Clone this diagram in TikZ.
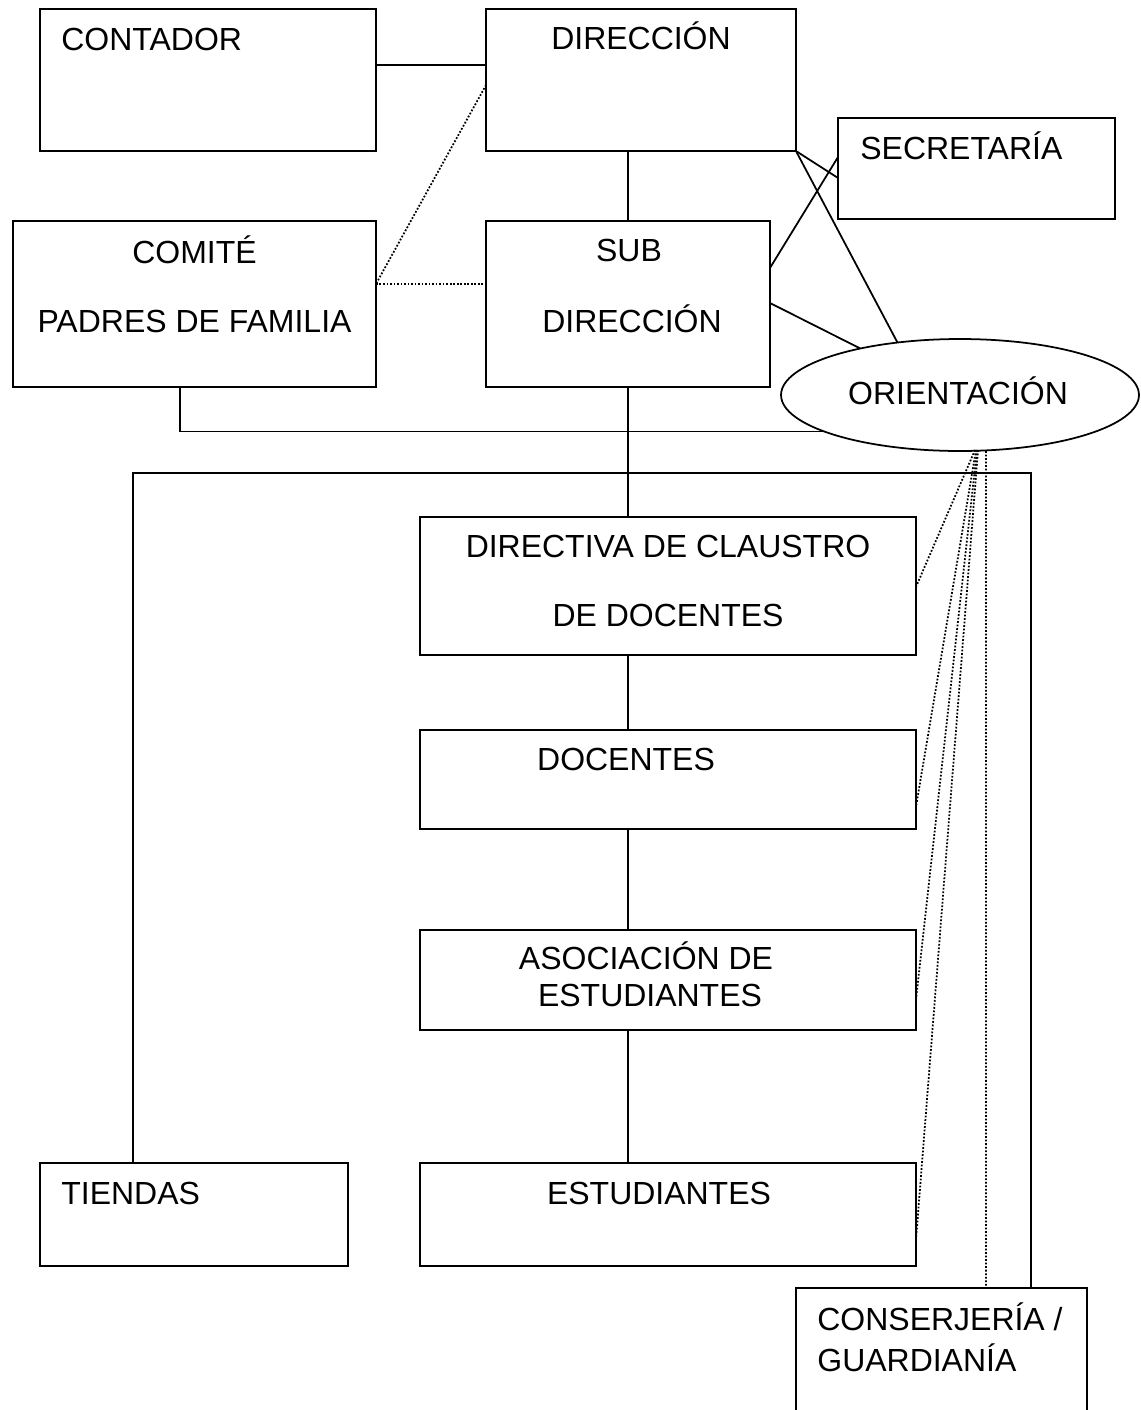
\documentclass[tikz,border=0pt]{standalone}
\usepackage{fontspec}
\setmainfont{Liberation Sans}
\usetikzlibrary{calc,shapes.geometric}
\tikzset{
  caja/.style={draw, rectangle, line width=1pt, inner sep=0pt, outer sep=0pt},
  elipse/.style={draw, ellipse, line width=1pt, inner sep=0pt, outer sep=0pt},
  texto/.style={inner sep=0pt, font=\fontsize{18.2}{22}\selectfont},
  linea/.style={line width=1pt},
  punteada/.style={line width=1pt, dash pattern=on 1pt off 1pt},
}
\begin{document}
\begin{tikzpicture}[x=0.02cm, y=-0.02cm]
  \clip (0,0) rectangle (1141,1410);
  %cajas
  \node[caja, minimum width=6.72cm, minimum height=2.84cm] (cont) at (208,80) {};
  \node[caja, minimum width=6.2cm, minimum height=2.84cm] (dir) at (641,80) {};
  \node[caja, minimum width=5.54cm, minimum height=2.02cm] (sec) at (976.5,168.5) {};
  \node[caja, minimum width=7.26cm, minimum height=3.32cm] (com) at (194.5,304) {};
  \node[caja, minimum width=5.68cm, minimum height=3.32cm] (sub) at (628,304) {};
  \node[elipse, minimum width=7.16cm, minimum height=2.24cm] (ori) at (960,395) {};
  \node[caja, minimum width=9.92cm, minimum height=2.76cm] (dcl) at (668,586) {};
  \node[caja, minimum width=9.92cm, minimum height=1.98cm] (doc) at (668,779.5) {};
  \node[caja, minimum width=9.92cm, minimum height=2cm] (aso) at (668,980) {};
  \node[caja, minimum width=9.92cm, minimum height=2.06cm] (est) at (668,1214.5) {};
  \node[caja, minimum width=6.16cm, minimum height=2.06cm] (tie) at (194,1214.5) {};
  \node[caja, minimum width=5.82cm, minimum height=2.64cm] (con) at (941.5,1354) {};
  %textos
  \node[texto, anchor=base west] (contT) at ($(cont.north west)+(21,41)$) {CONTADOR};
  \node[texto, anchor=base] (dirT) at ($(dir.north)+(0,40)$) {DIRECCIÓN};
  \node[texto, anchor=base west] (secT) at ($(sec.north west)+(22,41)$) {SECRETARÍA};
  \node[texto, anchor=base] (comT) at ($(com.north)+(0,42)$) {COMITÉ};
  \node[texto, anchor=base] (comT2) at ($(com.north)+(0,111)$) {PADRES DE FAMILIA};
  \node[texto, anchor=base] (subT) at ($(sub.north)+(1,40)$) {SUB};
  \node[texto, anchor=base] (subT2) at ($(sub.north)+(4,111)$) {DIRECCIÓN};
  \node[texto, anchor=base] (oriT) at ($(ori.center)+(-2,9)$) {ORIENTACIÓN};
  \node[texto, anchor=base] (dclT) at ($(dcl.north)+(0,40)$) {DIRECTIVA DE CLAUSTRO};
  \node[texto, anchor=base] (dclT2) at ($(dcl.north)+(0,109)$) {DE DOCENTES};
  \node[texto, anchor=base] (docT) at ($(doc.north)+(-42,40)$) {DOCENTES};
  \node[texto, anchor=base] (asoT) at ($(aso.north)+(-22,39)$) {ASOCIACIÓN DE};
  \node[texto, anchor=base] (asoT2) at ($(aso.north)+(-18,76)$) {ESTUDIANTES};
  \node[texto, anchor=base] (estT) at ($(est.north)+(-9,41)$) {ESTUDIANTES};
  \node[texto, anchor=base west] (tieT) at ($(tie.north west)+(21,41)$) {TIENDAS};
  \node[texto, anchor=base west] (conT) at ($(con.north west)+(21,42)$) {CONSERJERÍA /};
  \node[texto, anchor=base west] (conT2) at ($(con.north west)+(21,83)$) {GUARDIANÍA};
  %lineas
  \coordinate (bus) at (628,473);
  \draw[linea] ($(cont.east)+(0,-15)$) -- ($(dir.west)+(0,-15)$);
  \draw[linea] (sub.north |- dir.south) -- (sub.north);
  \draw[linea] (dir.south east) -- ($(sec.west)+(0,9.5)$);
  \draw[linea] (dir.south east) -- (ori.140);
  \draw[linea] ($(sub.east)+(0,-36)$) -- ($(sec.west)+(0,-11.5)$);
  \draw[linea] ($(sub.east)+(0,-1)$) -- (ori.155);
  \draw[linea] ($(com.south)+(-14.5,0)$) |- (ori.195);
  \draw[linea] (sub.south) -- (sub.south |- dcl.north);
  \draw[linea] ($(tie.north)+(-61,0)$) |- (bus) -| ($(con.north)+(89.5,0)$);
  \draw[linea] (sub.south |- dcl.south) -- (sub.south |- doc.north);
  \draw[linea] (sub.south |- doc.south) -- (sub.south |- aso.north);
  \draw[linea] (sub.south |- aso.south) -- (sub.south |- est.north);
  %punteadas
  \draw[punteada] ($(dir.west)+(0,5)$) -- ($(com.east)+(0,-20)$);
  \draw[punteada] ($(com.east)+(0,-20)$) -- ($(sub.west)+(0,-20)$);
  \draw[punteada] ($(ori.south)+(15,-1)$) -- ($(dcl.east)+(0,1)$);
  \draw[punteada] ($(ori.south)+(16,-1)$) -- ($(doc.east)+(0,27.5)$);
  \draw[punteada] ($(ori.south)+(17,-1)$) -- ($(aso.east)+(0,20)$);
  \draw[punteada] ($(ori.south)+(18,-1)$) -- ($(est.east)+(0,25.5)$);
  \draw[punteada] ($(ori.south)+(26,0)$) -- ($(con.north)+(44.5,0)$);
\end{tikzpicture}
\end{document}
